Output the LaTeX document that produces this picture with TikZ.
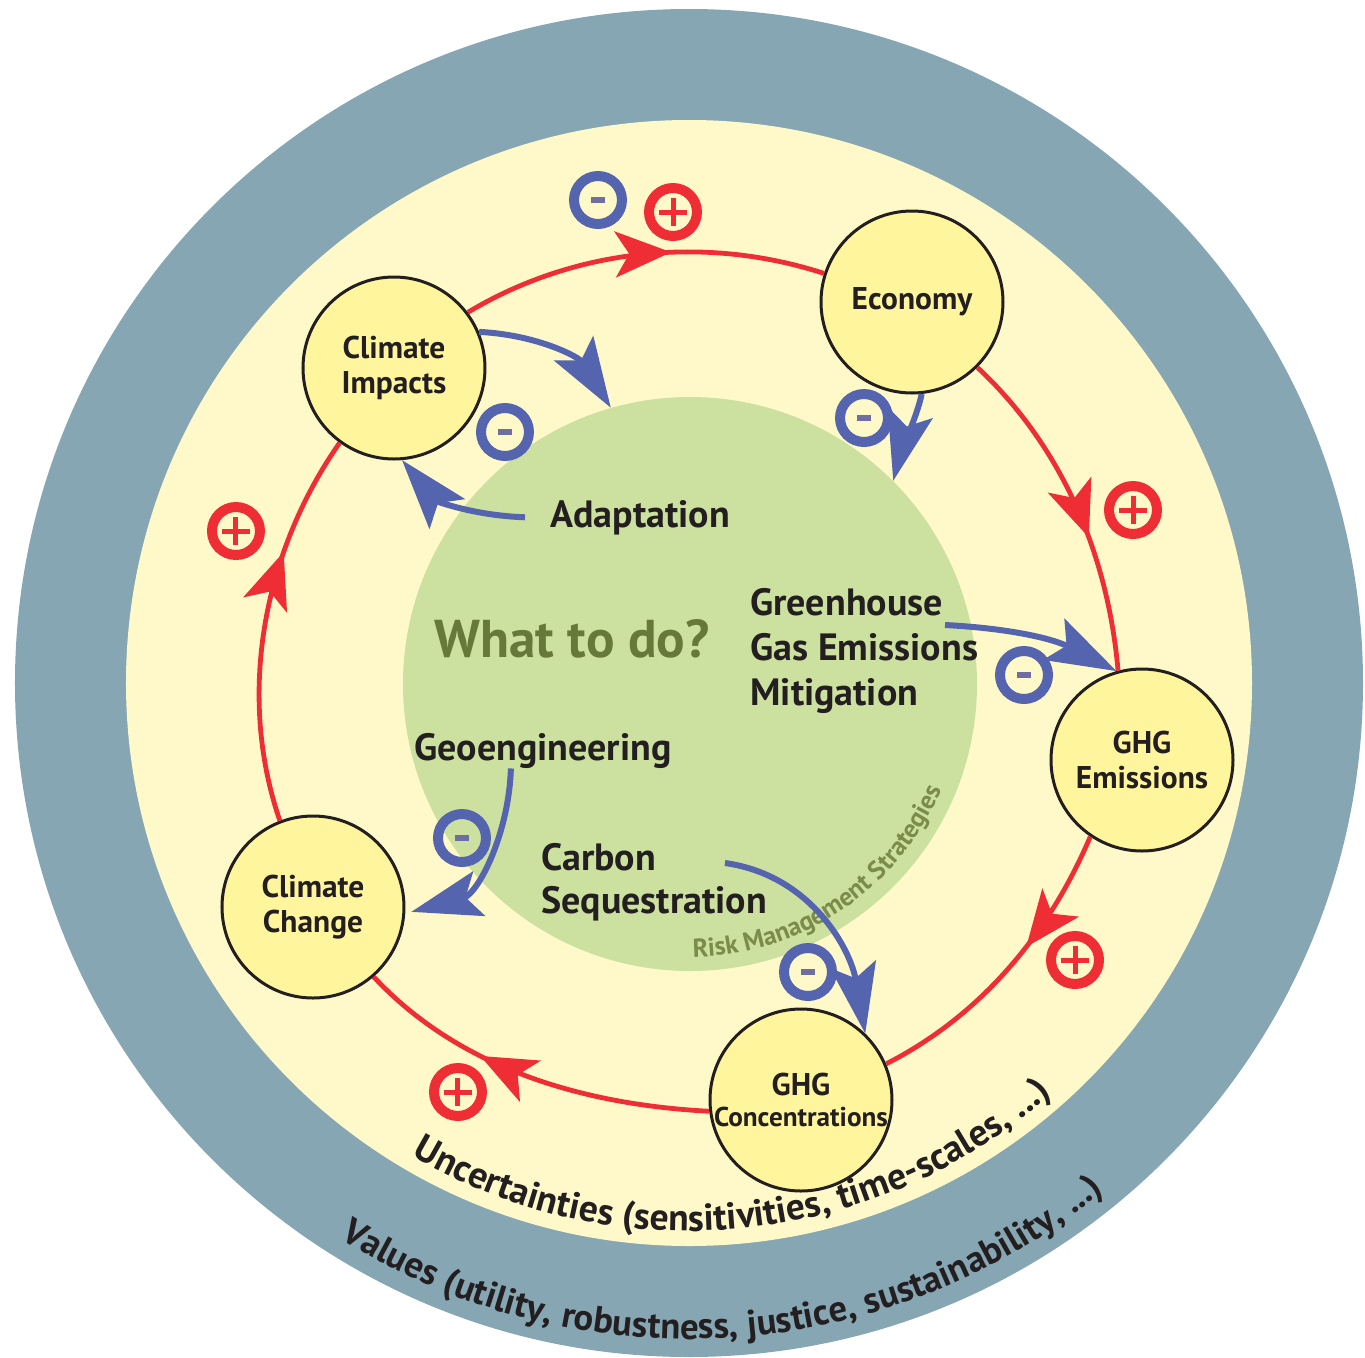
\documentclass[tikz,border=0pt]{standalone}
\usepackage{fontspec}
\setmainfont{PT Sans}
\usetikzlibrary{arrows.meta,decorations.markings,decorations.text}
\definecolor{ringgrey}{HTML}{86A6B3}
\definecolor{bgyellow}{HTML}{FFF9C9}
\definecolor{bggreen}{HTML}{CCE0A0}
\definecolor{nodeyellow}{HTML}{FFF59D}
\definecolor{loopred}{HTML}{EE2E34}
\definecolor{actblue}{HTML}{5564AF}
\definecolor{minusbar}{HTML}{6E6EA0}
\definecolor{darkolive}{HTML}{66783A}
\definecolor{riskolive}{HTML}{7B8C4A}
\definecolor{ink}{HTML}{231F20}
\begin{document}
\begin{tikzpicture}[x=0.5pt,y=0.5pt,
  sysnode/.style={circle, draw=ink, line width=1.5pt, fill=nodeyellow, minimum size=91pt, inner sep=0pt, align=center, text=ink, font=\bfseries\fontsize{15.7}{17.5}\selectfont},
  fieldtext/.style={inner sep=0pt, text=ink, align=left, font=\bfseries\fontsize{19}{22.5}\selectfont},
  redloop/.style={draw=loopred, line width=2.4pt, looseness=0.89},
  redtip/.style={postaction={decorate, decoration={markings, mark=at position #1 with {\arrow{Stealth[length=28pt,width=23pt,inset=7pt,color=loopred]}}}}},
  bluearrow/.style={draw=actblue, line width=3pt, -{Stealth[length=35pt,width=23pt,inset=7pt]}},
  plusbadge/.style={circle, draw=loopred, line width=5pt, minimum size=24pt, inner sep=0pt,
    path picture={\draw[loopred, line width=2.5pt]
      ([xshift=-7pt]path picture bounding box.center) -- ([xshift=7pt]path picture bounding box.center)
      ([yshift=-7pt]path picture bounding box.center) -- ([yshift=7pt]path picture bounding box.center);}},
  minusbadge/.style={circle, draw=actblue, line width=5pt, minimum size=24pt, inner sep=0pt,
    path picture={\fill[minusbar]
      ([xshift=-3.5pt,yshift=-1.5pt]path picture bounding box.center) rectangle ([xshift=3.5pt,yshift=1.5pt]path picture bounding box.center);}}
]
\useasboundingbox (-689,-674) rectangle (676,683);

% background rings
\fill[ringgrey] (0,0) circle[radius=674];
\fill[bgyellow] (0,0) circle[radius=563];
\node[circle, fill=bggreen, minimum size=287pt, inner sep=0pt] (green) at (1,-1) {};

% curved labels
\path[decorate, decoration={text along path, text align=center, text color=ink,
  text={|\bfseries\fontsize{18.8}{18.8}\selectfont|Uncertainties (sensitivities, time-scales, ...)}}]
  (-126:548) arc[start angle=-126, end angle=-43, radius=548];
\path[decorate, decoration={text along path, text align=center, text color=ink,
  text={|\bfseries\fontsize{18.4}{18.4}\selectfont|Values (utility, robustness, justice, sustainability, ...)}}]
  (-126:656) arc[start angle=-126, end angle=-47, radius=656];
\path[decorate, decoration={text along path, text align=center, text color=riskolive,
  text={|\bfseries\fontsize{13}{13}\selectfont|Risk Management Strategies}}]
  (-94:274) arc[start angle=-94, end angle=-18, radius=274];

% system nodes
\node[sysnode] (ci) at (-295,315) {Climate\\Impacts};
\node[sysnode] (eco) at (223,381) {Economy};
\node[sysnode] (ghge) at (453,-77) {GHG\\Emissions};
\node[sysnode, font=\bfseries\fontsize{15.7}{15.5}\selectfont] (ghgc) at (112,-417) {GHG\\{\fontsize{13.6}{15.5}\selectfont Concentrations}};
\node[sysnode] (cc) at (-376,-224) {Climate\\Change};

% texts in the green disc
\node[anchor=base, inner sep=0pt, text=darkolive, font=\bfseries\fontsize{26.6}{30}\selectfont] (what) at (-117,26) {What to do?};
\node[fieldtext, anchor=base west] (adapt) at (-139,156) {Adaptation};
\node[fieldtext, anchor=base west] (mitig) at (61,-22) {Greenhouse\\Gas Emissions\\Mitigation};
\node[fieldtext, anchor=base west] (geo) at (-275,-77) {Geoengineering};
\node[fieldtext, anchor=base west, font=\bfseries\fontsize{19}{21.5}\selectfont] (carbon) at (-148,-230) {Carbon\\Sequestration};
\coordinate (mitstart) at (256,58);
\coordinate (carbstart) at (36,-180);

% red feedback loop
\draw[redloop, redtip=0.58] (ci.37) to[out=31, in=162] (eco.162);
\draw[redloop, redtip=0.60] (eco.-45) to[out=-43, in=95] (ghge.105);
\draw[redloop, redtip=0.41] (ghge.236) to[out=-113, in=27] (ghgc.23);
\draw[redloop, redtip=0.64] (ghgc.187) to[out=177, in=-47] (cc.-49);
\draw[redloop, redtip=0.69] (cc.111) to[out=109, in=-125] (ci.-126);

% blue strategy arrows
\draw[bluearrow] (ci.23) to[out=-3, in=122] (green.106);
\draw[bluearrow] (eco.-84) to[out=-100, in=76, looseness=0.5] (green.45);
\draw[bluearrow] ([xshift=-12.5pt]adapt.west) to[out=178, in=-50] (ci.-85);
\draw[bluearrow] (mitstart) to[out=-3, in=153] (ghge.106);
\draw[bluearrow] ([xshift=-16pt]geo.south) to[out=-92, in=15] ([xshift=3pt]cc.-3);
\draw[bluearrow] (carbstart) to[out=-8, in=100] (ghgc.46);

% signs
\node[plusbadge] (p1) at (-16,471) {};
\node[plusbadge] (p2) at (444,173) {};
\node[plusbadge] (p3) at (386,-277) {};
\node[plusbadge] (p4) at (-231,-409) {};
\node[plusbadge] (p5) at (-453,152) {};
\node[minusbadge] (m1) at (-91,483) {};
\node[minusbadge] (m2) at (-184,251) {};
\node[minusbadge] (m3) at (175,265) {};
\node[minusbadge] (m4) at (335,8) {};
\node[minusbadge] (m5) at (-227,-155) {};
\node[minusbadge] (m6) at (119,-289) {};
\end{tikzpicture}
\end{document}
